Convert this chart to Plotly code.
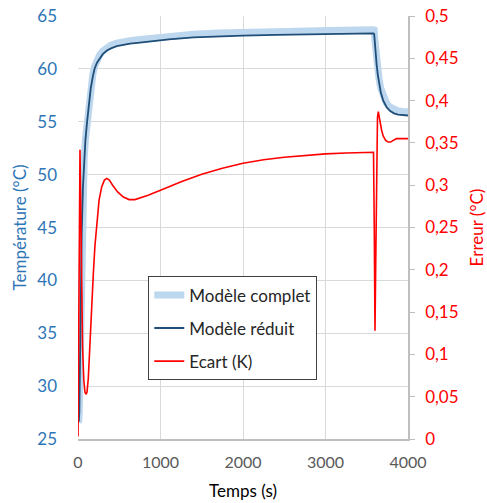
import plotly.graph_objects as go

# Temperature curves (time in s, temperature in °C)
t_temp = [0, 10, 16, 25, 35, 45, 60, 75, 90, 110, 130, 155, 180, 200, 230, 260, 300, 350, 400,
          470, 550, 630, 750, 900, 1100, 1400, 1700, 2000, 2400, 2800, 3200, 3580, 3590, 3600,
          3610, 3620, 3635, 3650, 3670, 3700, 3740, 3780, 3830, 3880, 3940, 4000]
temp_reduit = [26.6, 26.7, 27.5, 33.0, 39.0, 44.5, 48.8, 51.5, 53.3, 55.0, 56.7, 58.2, 59.3, 60.0,
               60.6, 61.0, 61.4, 61.75, 61.95, 62.15, 62.3, 62.4, 62.5, 62.65, 62.8, 62.98, 63.08,
               63.15, 63.23, 63.29, 63.33, 63.36, 63.3, 62.2, 61.2, 60.4, 59.4, 58.6, 57.8, 57.0,
               56.4, 56.05, 55.8, 55.68, 55.62, 55.6]
temp_complet = [26.6, 26.75, 27.8, 33.3, 39.2, 44.6, 48.9, 51.6, 53.35, 55.05, 56.8, 58.35, 59.5,
                60.22, 60.87, 61.29, 61.7, 62.06, 62.25, 62.44, 62.59, 62.68, 62.79, 62.94, 63.1,
                63.29, 63.4, 63.48, 63.56, 63.63, 63.67, 63.7, 63.68, 62.6, 61.6, 60.8, 59.8, 59.0,
                58.17, 57.36, 56.75, 56.4, 56.15, 56.03, 55.97, 55.95]

# Error curve (°C)
t_err = [0, 5, 12, 18, 24, 30, 40, 55, 70, 85, 100, 110, 125, 145, 165, 186, 205, 226, 255, 287,
         320, 348, 380, 420, 480, 550, 620, 690, 760, 850, 1000, 1250, 1500, 1750, 2000, 2250,
         2500, 2750, 3000, 3250, 3500, 3582, 3591, 3600, 3608, 3618, 3630, 3640, 3660, 3680, 3700,
         3730, 3760, 3790, 3820, 3860, 3900, 4000]
ecart = [0.003, 0.08, 0.22, 0.31, 0.342, 0.30, 0.20, 0.11, 0.07, 0.055, 0.053, 0.056, 0.072,
         0.117, 0.16, 0.196, 0.228, 0.255, 0.282, 0.298, 0.306, 0.308, 0.306, 0.300, 0.292, 0.286,
         0.283, 0.283, 0.285, 0.288, 0.294, 0.304, 0.313, 0.320, 0.326, 0.330, 0.333, 0.335, 0.337,
         0.338, 0.339, 0.339, 0.25, 0.128, 0.20, 0.32, 0.38, 0.387, 0.375, 0.365, 0.358, 0.353,
         0.351, 0.351, 0.353, 0.355, 0.355, 0.355]

FONT = "Lato"
BLUE = "#2E75B6"
RED = "#FF0000"

fig = go.Figure()
fig.add_trace(go.Scatter(x=t_temp, y=temp_complet, mode="lines", name="Modèle complet",
                         line=dict(color="#BDD7EE", width=7), legendgroup="a"))
fig.add_trace(go.Scatter(x=t_temp, y=temp_reduit, mode="lines", name="Modèle réduit",
                         line=dict(color="#1F4E79", width=1.8), legendgroup="b"))
fig.add_trace(go.Scatter(x=t_err, y=ecart, mode="lines", name="Ecart (K)", yaxis="y2",
                         line=dict(color=RED, width=1.6), legendgroup="c"))

fig.update_layout(
    width=487, height=503,
    margin=dict(l=78, r=79, t=16, b=64, autoexpand=False),
    paper_bgcolor="white", plot_bgcolor="white",
    font=dict(family=FONT, size=16, color="#595959"),
    separators=", ",
    showlegend=True,
    legend=dict(x=0.213, y=0.3845, xanchor="left", yanchor="top",
                bordercolor="#404040", borderwidth=1, bgcolor="white",
                font=dict(family=FONT, size=17, color="#262626"),
                tracegroupgap=8, traceorder="grouped", itemwidth=30),
    xaxis=dict(range=[0, 4000], dtick=1000, tickformat="d", showgrid=True,
               gridcolor="#D9D9D9", gridwidth=1, zeroline=False, automargin=False,
               showline=True, linecolor="#BFBFBF", linewidth=1.5, ticks="",
               ticklabelstandoff=8,
               tickfont=dict(size=16, color="#595959"),
               title=dict(text="Temps (s)", font=dict(size=17, color="#000000"), standoff=15)),
    yaxis=dict(range=[24.999, 65.01], dtick=5, tick0=25, showgrid=True, gridcolor="#D9D9D9",
               gridwidth=1, zeroline=False, showline=False, ticks="", automargin=False,
               ticklabelstandoff=20,
               tickfont=dict(size=17, color=BLUE),
               title=dict(text="Température (°C)", font=dict(size=17, color=BLUE), standoff=6)),
    yaxis2=dict(range=[0, 0.5], dtick=0.05, overlaying="y", side="right", showgrid=False,
                zeroline=False, showline=True, linecolor="#BFBFBF", linewidth=1.5,
                ticks="outside", ticklen=5, tickcolor="#BFBFBF", automargin=False,
                ticklabelstandoff=7,
                tickfont=dict(size=17, color=RED),
                title=dict(text="Erreur (°C)", font=dict(size=17, color=RED), standoff=15)),
)

fig.write_html("out.html", config={"displayModeBar": False},
               post_script="document.body.style.margin='0';")
